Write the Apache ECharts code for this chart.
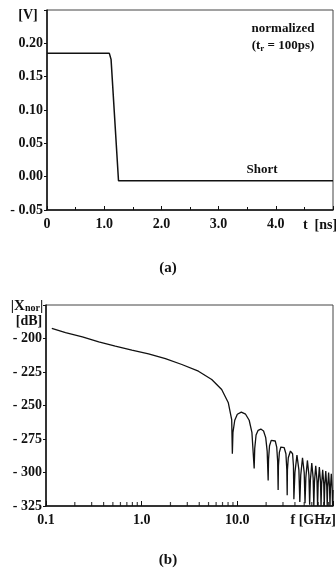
<!DOCTYPE html>
<html>
<head>
<meta charset="utf-8">
<script src="https://cdn.jsdelivr.net/npm/echarts@6/dist/echarts.min.js"></script>
<style>
html, body { margin: 0; padding: 0; background: #fff; }
#main { width: 336px; height: 571px; }
</style>
</head>
<body>
<div id="main"></div>
<script>
// (a) step response, time domain
var timeNs = [0, 1.09, 1.12, 1.25, 5.0];
var voltV = [0.185, 0.185, 0.176, -0.006, -0.006];

// (b) normalized spectrum
var specGHz = [0.115, 0.16, 0.24, 0.356, 0.53, 0.79, 1.18, 1.77, 2.63, 3.92, 5.4, 6.86, 8.05, 8.73, 8.87,
  9.0, 9.4, 10.0, 11.0, 12.2, 13.3, 14.2, 15.0,
  15.2, 15.7, 16.5, 17.6, 18.8, 19.8, 20.5, 21.0,
  21.2, 21.7, 22.6, 23.7, 24.9, 25.8, 26.4, 26.7,
  26.9, 27.5, 28.5, 29.6, 30.9, 32.2, 32.9, 33.2,
  33.4, 34.1, 35.9, 37.8, 38.6, 39,
  40, 42, 44, 45, 46, 48, 50, 51, 52, 54, 56, 57, 58, 60, 62, 63, 64, 66, 68, 69,
  70, 72, 74, 75, 76, 78, 80, 81, 82, 84, 86, 87, 88, 90, 92, 93, 94, 96, 98, 99, 100];
var specDb = [-192.5, -195.7, -198.7, -202.5, -205.7, -208.7, -211.4, -215.1, -219.4, -224.4, -230.6, -238.1, -248, -260.5, -286,
  -270, -261, -256.5, -255, -256.5, -261, -270, -297,
  -282, -272, -268.5, -267.6, -269, -274, -284, -306,
  -290, -280, -276, -275, -276.5, -281, -292, -313,
  -295, -285, -281, -280, -281.5, -286, -298, -317,
  -298, -289, -284, -286, -295, -320,
  -300, -287, -298, -322, -302, -289, -300, -323, -304, -291, -302, -324, -306, -293, -304, -325, -307, -295, -306, -325,
  -308, -296, -307, -325, -309, -298, -308, -325, -310, -299, -310, -325, -311, -300, -311, -325, -312, -301, -312, -325, -313];

var logMinorTicks = [0.2, 0.3, 0.4, 0.5, 0.6, 0.7, 0.8, 0.9, 2, 3, 4, 5, 6, 7, 8, 9, 20, 30, 40, 50, 60, 70, 80, 90];

var serif = '"Liberation Serif", "Times New Roman", serif';
var ink = '#111';

var chart = echarts.init(document.getElementById('main'));

function lbl() {
  return { color: ink, fontFamily: serif, fontWeight: 'bold', fontSize: 14 };
}

var option = {
  animation: false,
  grid: [
    { left: 47, top: 10, width: 292, height: 200, show: true, borderColor: '#444', borderWidth: 1 },
    { left: 46, top: 305, width: 289, height: 201, show: true, borderColor: '#444', borderWidth: 1 }
  ],
  xAxis: [
    {
      gridIndex: 0, type: 'value', min: 0, max: 5, interval: 1,
      axisLine: { onZero: false, lineStyle: { color: ink, width: 1.5 } },
      axisTick: { inside: true, length: 4, lineStyle: { color: ink } },
      minorTick: { show: true, splitNumber: 2, length: 3, lineStyle: { color: ink } },
      splitLine: { show: false },
      axisLabel: Object.assign(lbl(), {
        margin: 7,
        formatter: function (v) { return v === 0 ? '0' : (v > 4.5 ? '' : v.toFixed(1)); }
      })
    },
    {
      gridIndex: 1, type: 'log', logBase: 10, min: 0.1, max: 100,
      axisLine: { onZero: false, lineStyle: { color: ink, width: 1.5 } },
      axisTick: { inside: true, length: 5, lineStyle: { color: ink } },
      splitLine: { show: false },
      axisLabel: Object.assign(lbl(), {
        margin: 7,
        formatter: function (v) { return v < 0.5 ? '0.1' : (v > 50 ? '' : v.toFixed(1)); }
      })
    }
  ],
  yAxis: [
    {
      gridIndex: 0, type: 'value', min: -0.05, max: 0.25, interval: 0.05,
      axisLine: { show: true, onZero: false, lineStyle: { color: ink, width: 1.5 } },
      axisTick: { show: true, length: 3, lineStyle: { color: ink } },
      splitLine: { show: false },
      axisLabel: Object.assign(lbl(), {
        margin: 4,
        formatter: function (v) {
          if (v > 0.22) return '';
          if (v < -1e-6) return '- ' + Math.abs(v).toFixed(2);
          return Math.abs(v).toFixed(2);
        }
      })
    },
    {
      gridIndex: 1, type: 'value', min: -325, max: -175, interval: 25,
      axisLine: { show: true, onZero: false, lineStyle: { color: ink, width: 1.5 } },
      axisTick: { show: true, length: 3, lineStyle: { color: ink } },
      splitLine: { show: false },
      axisLabel: Object.assign(lbl(), {
        margin: 4,
        formatter: function (v) { return v > -180 ? '' : '- ' + Math.abs(v); }
      })
    }
  ],
  series: [
    {
      type: 'line', xAxisIndex: 0, yAxisIndex: 0, symbol: 'none',
      lineStyle: { color: ink, width: 1.5 },
      data: timeNs.map(function (t, i) { return [t, voltV[i]]; })
    },
    {
      type: 'line', xAxisIndex: 1, yAxisIndex: 1, symbol: 'none',
      lineStyle: { color: ink, width: 1.3 },
      data: specGHz.map(function (f, i) { return [f, specDb[i]]; })
    },
    {
      // minor decade ticks on the log axis
      type: 'scatter', xAxisIndex: 1, yAxisIndex: 1,
      symbol: 'rect', symbolSize: [1.2, 4], symbolOffset: [0, -2],
      itemStyle: { color: ink }, silent: true,
      data: logMinorTicks.map(function (f) { return [f, -325]; })
    }
  ],
  graphic: [
    { type: 'text', style: { text: '[V]', x: 28, y: 15, font: 'bold 14px ' + serif, fill: ink, textAlign: 'center', textVerticalAlign: 'middle' } },
    { type: 'text', style: { text: 'normalized', x: 283, y: 29, font: 'bold 13px ' + serif, fill: ink, textAlign: 'center', textVerticalAlign: 'middle' } },
    { type: 'text', style: { text: '(t{s|r} = 100ps)', x: 283, y: 46, font: 'bold 13px ' + serif, fill: ink, textAlign: 'center', textVerticalAlign: 'middle',
        rich: { s: { font: 'bold 9px ' + serif, fill: ink, padding: [6, 0, 0, 0] } } } },
    { type: 'text', style: { text: 'Short', x: 262, y: 170, font: 'bold 13px ' + serif, fill: ink, textAlign: 'center', textVerticalAlign: 'middle' } },
    { type: 'text', style: { text: 't  [ns]', x: 320, y: 225, font: 'bold 14px ' + serif, fill: ink, textAlign: 'center', textVerticalAlign: 'middle' } },
    { type: 'text', style: { text: '(a)', x: 168, y: 268, font: 'bold 15px ' + serif, fill: ink, textAlign: 'center', textVerticalAlign: 'middle' } },
    { type: 'text', style: { text: '|X{s|nor}|', x: 27, y: 306, font: 'bold 15px ' + serif, fill: ink, textAlign: 'center', textVerticalAlign: 'middle',
        rich: { s: { font: 'bold 10px ' + serif, fill: ink, padding: [5, 0, 0, 0] } } } },
    { type: 'text', style: { text: '[dB]', x: 29, y: 321, font: 'bold 14px ' + serif, fill: ink, textAlign: 'center', textVerticalAlign: 'middle' } },
    { type: 'text', style: { text: 'f [GHz]', x: 336, y: 520, font: 'bold 14px ' + serif, fill: ink, textAlign: 'right', textVerticalAlign: 'middle' } },
    { type: 'text', style: { text: '(b)', x: 168, y: 560, font: 'bold 15px ' + serif, fill: ink, textAlign: 'center', textVerticalAlign: 'middle' } }
  ]
};

chart.setOption(option);
</script>
</body>
</html>
